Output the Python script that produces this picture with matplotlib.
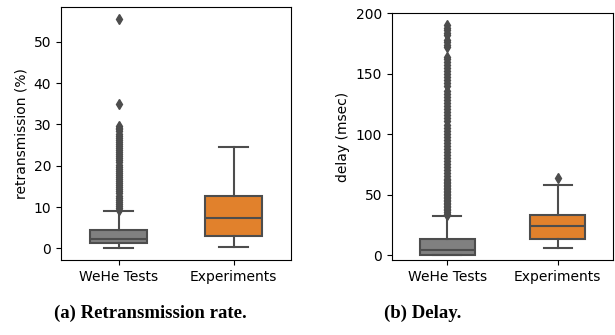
import matplotlib
matplotlib.use("Agg")
from matplotlib import pyplot as plt

categories = ["WeHe Tests", "Experiments"]
box_colors = ["#808080", "#e1812c"]
line_color = "#4d4d4d"

# retransmission (%) : whislo, q1, median, q3, whishi
retx_whislo = [0.0, 0.3]
retx_q1 = [1.2, 2.9]
retx_med = [2.2, 7.3]
retx_q3 = [4.4, 12.6]
retx_whishi = [9.0, 24.5]
retx_fliers_wehe = [9.3, 9.8, 10.3, 10.8, 11.3, 11.8, 12.3, 12.8, 13.3, 13.8,
                    14.3, 14.8, 15.3, 15.8, 16.3, 16.8, 17.3, 17.8, 18.3, 18.8,
                    19.3, 19.8, 20.3, 20.8, 21.3, 21.8, 22.3, 22.8, 23.3, 23.8,
                    24.3, 24.8, 25.3, 25.8, 26.3, 26.8, 27.3, 27.8, 28.3, 28.8,
                    29.2, 29.5, 35.0, 55.6]
retx_fliers_exp = []

# delay (msec)
delay_whislo = [0.0, 5.5]
delay_q1 = [0.0, 13.5]
delay_med = [3.8, 23.8]
delay_q3 = [13.5, 33.5]
delay_whishi = [32.5, 58.0]
delay_fliers_wehe = [33, 34, 35.5, 37, 38, 39.5, 40.5, 42, 43, 44.5, 45.5, 47,
                     48, 49.5, 50.5, 52, 53, 54.5, 55.5, 57, 58, 59.5, 60.5,
                     62, 63, 65.5, 68, 70.5, 73, 75.5, 78, 80.5, 83, 85.5, 88,
                     90.5, 93, 95.5, 98, 100.5, 103, 105.5, 108, 110.5, 113,
                     115.5, 118, 120.5, 123, 125.5, 128, 130.5, 133, 135.5,
                     140, 142.5, 145, 147.5, 150, 152.5, 155, 157.5, 160,
                     162.5, 164, 172, 174, 176.5, 178, 182, 184, 186, 188,
                     190.5]
delay_fliers_exp = [63.5]


def make_stats(lo, q1, med, q3, hi, fliers):
    stats = []
    for i in range(len(categories)):
        stats.append(dict(whislo=lo[i], q1=q1[i], med=med[i], q3=q3[i],
                          whishi=hi[i], fliers=fliers[i], label=categories[i]))
    return stats


def draw(ax, stats):
    lp = dict(color=line_color, linewidth=1.5)
    bp = ax.bxp(stats, positions=[0, 1], widths=0.5, patch_artist=True,
                boxprops=dict(edgecolor=line_color, linewidth=1.5),
                medianprops=lp, whiskerprops=lp, capprops=lp,
                capwidths=0.25,
                flierprops=dict(marker='d', markersize=5.5,
                                markerfacecolor=line_color,
                                markeredgecolor=line_color, linestyle='none'))
    for patch, c in zip(bp['boxes'], box_colors):
        patch.set_facecolor(c)
    ax.set_xlim(-0.5, 1.5)
    ax.set_xticks([0, 1])
    ax.set_xticklabels(categories)
    ax.tick_params(axis='both', labelsize=10)


fig = plt.figure(figsize=(6.15, 3.35), dpi=100)
ax1 = fig.add_axes([0.0992, 0.2239, 0.3740, 0.7551])
ax2 = fig.add_axes([0.6374, 0.2239, 0.3593, 0.7363])

draw(ax1, make_stats(retx_whislo, retx_q1, retx_med, retx_q3, retx_whishi,
                     [retx_fliers_wehe, retx_fliers_exp]))
ax1.set_ylim(-2.8, 58.4)
ax1.set_yticks([0, 10, 20, 30, 40, 50])
ax1.set_ylabel("retransmission (%)", fontsize=10)

draw(ax2, make_stats(delay_whislo, delay_q1, delay_med, delay_q3, delay_whishi,
                     [delay_fliers_wehe, delay_fliers_exp]))
ax2.set_ylim(-4.1, 200)
ax2.set_yticks([0, 50, 100, 150, 200])
ax2.set_ylabel("delay (msec)", fontsize=10)

cap_font = dict(family="Liberation Serif", fontweight="bold", fontsize=13.5,
                ha="center", va="center")
fig.text(150 / 615, 1 - 313 / 335, "(a) Retransmission rate.", **cap_font)
fig.text(423 / 615, 1 - 313 / 335, "(b) Delay.", **cap_font)

fig.savefig("out.png", dpi=100)
